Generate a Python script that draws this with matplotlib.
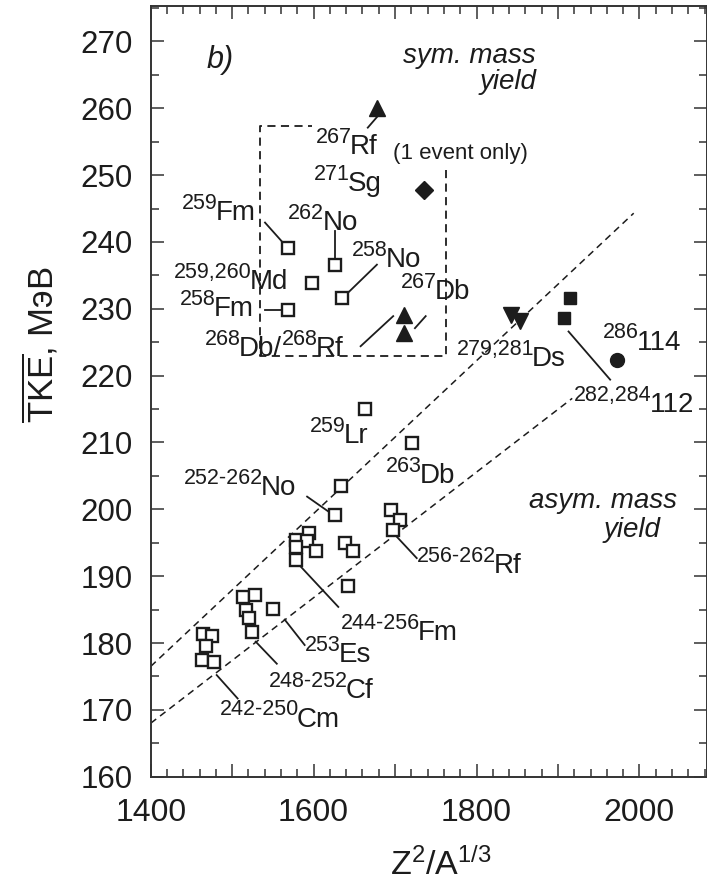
import matplotlib
matplotlib.use('Agg')
import matplotlib.pyplot as plt
from matplotlib.ticker import MultipleLocator
from matplotlib.transforms import offset_copy

plt.rcParams['font.family'] = ['Liberation Sans', 'DejaVu Sans']
plt.rcParams['mathtext.fontset'] = 'custom'
plt.rcParams['mathtext.rm'] = 'Liberation Sans'
plt.rcParams['mathtext.it'] = 'Liberation Sans:italic'
plt.rcParams['mathtext.default'] = 'regular'

INK = '#1c1c1c'

# ---------------- data ----------------
# open squares (Z^2/A^(1/3), TKE)
open_x = [1568, 1625.7, 1597.8, 1634.7, 1568,            # 259Fm, 262No, 259,260Md, 258No, 258Fm
          1663.1, 1720.8,                                  # 259Lr, 263Db
          1633.3, 1625.7,                                  # No
          1694.6, 1705.6, 1697.6,                          # Rf
          1577.8, 1594.7, 1592.0, 1577.8, 1603.5, 1577.8,  # Fm
          1639.1, 1648.9, 1642.2,
          1513.5, 1528.0, 1516.5, 1520.1, 1524.5,          # Cf
          1550.3,                                          # Es
          1464.6, 1475.7, 1467.6, 1463.2, 1478.0]          # Cm
open_y = [239.1, 236.6, 233.8, 231.6, 229.8,
          215.0, 209.9,
          203.5, 199.2,
          199.9, 198.4, 196.9,
          195.4, 196.5, 195.2, 194.4, 193.7, 192.4,
          194.9, 193.7, 188.5,
          186.9, 187.2, 185.0, 183.7, 181.6,
          185.1,
          181.4, 181.1, 179.5, 177.4, 177.2]

rf_db_x = [1677.7, 1711.0, 1711.0]   # filled up-triangles: 267Rf, 268Db/268Rf
rf_db_y = [260.0, 229.1, 226.4]
sg_x = [1735.4]                      # 271Sg diamond
sg_y = [247.7]
ds_x = [1842.0, 1853.0]              # 279,281Ds down-triangles
ds_y = [229.1, 228.1]
cn_x = [1914.3, 1907.2]              # 282,284 112 filled squares
cn_y = [231.6, 228.6]
fl_x = [1973.0]                      # 286 114 circle
fl_y = [222.4]

# dashed trend lines
upper_x = [1400, 1993]
upper_y = [176.5, 244.3]
lower_x = [1400, 1917.5]
lower_y = [168.0, 216.6]

# dashed box around the symmetric-yield group
box_x = [1762, 1762, 1534.3, 1534.3, 1598]
box_y = [250.8, 223.0, 223.0, 257.3, 257.3]

# labels: "^sup|base|..." , x, y (baseline-left)
labels = [
    ('^267|Rf', 1602.3, 253.2),
    ('^271|Sg', 1600.0, 247.6),
    ('^259|Fm', 1438.0, 243.3),
    ('^262|No', 1569.0, 241.8),
    ('^259,260|Md', 1429.0, 232.9),
    ('^258|No', 1646.7, 236.3),
    ('^258|Fm', 1435.8, 228.9),
    ('^267|Db', 1706.6, 231.4),
    ('^268|Db/|^268|Rf', 1466.8, 222.9),
    ('^279,281|Ds', 1775.4, 221.4),
    ('^286|114', 1955.3, 223.9),
    ('^282,284|112', 1919.7, 214.6),
    ('^259|Lr', 1595.6, 209.9),
    ('^263|Db', 1688.8, 203.9),
    ('^252-262|No', 1440.2, 202.2),
    ('^256-262|Rf', 1726.6, 190.4),
    ('^244-256|Fm', 1633.2, 180.5),
    ('^253|Es', 1589.0, 177.2),
    ('^248-252|Cf', 1544.5, 171.7),
    ('^242-250|Cm', 1484.6, 167.5),
]

# leader lines: (x0, y0, x1, y1)
leaders = [
    (1680.0, 259.0, 1666.5, 257.1),
    (1540.3, 242.9, 1562.3, 239.9),
    (1626.7, 241.6, 1626.7, 237.6),
    (1642.2, 232.4, 1677.7, 236.6),
    (1540.1, 229.8, 1562.3, 229.8),
    (1737.6, 228.9, 1724.4, 227.1),
    (1657.7, 224.4, 1697.7, 228.9),
    (1913.0, 226.6, 1964.1, 219.4),
    (1592.0, 201.9, 1617.8, 199.7),
    (1702.1, 195.9, 1726.6, 192.7),
    (1584.4, 191.4, 1630.3, 185.4),
    (1564.5, 183.5, 1589.0, 179.7),
    (1528.9, 180.2, 1554.8, 176.9),
    (1481.0, 175.2, 1506.7, 171.7),
]

# ---------------- figure ----------------
fig = plt.figure(figsize=(7.07, 8.81), dpi=100)
ax = fig.add_axes([0.2132, 0.1184, 0.7868, 0.8748])
ax.set_xlim(1400, 2083)
ax.set_ylim(160, 275.3)
renderer = fig.canvas.get_renderer()

dash = (0, (4.5, 3.2))
ax.plot(upper_x, upper_y, color=INK, lw=1.1, ls=dash)
ax.plot(lower_x, lower_y, color=INK, lw=1.1, ls=dash)
ax.plot(box_x, box_y, color=INK, lw=1.3, ls=(0, (4.5, 3.0)))

for x0, y0, x1, y1 in leaders:
    ax.plot([x0, x1], [y0, y1], color=INK, lw=1.3)

ax.plot(open_x, open_y, ls='none', marker='s', ms=8.2, mfc='white', mec=INK, mew=1.7)
ax.plot(rf_db_x, rf_db_y, ls='none', marker='^', ms=12, color=INK)
ax.plot(sg_x, sg_y, ls='none', marker='D', ms=9.5, color=INK)
ax.plot(ds_x, ds_y, ls='none', marker='v', ms=11, color=INK)
ax.plot(cn_x, cn_y, ls='none', marker='s', ms=8, color=INK)
ax.plot(fl_x, fl_y, ls='none', marker='o', ms=10, color=INK)

BASE_FS, SUP_FS, RISE = 20, 15.5, 8.0


def seg_label(spec, x, y):
    dx = 0.0
    for part in spec.split('|'):
        sup = part.startswith('^')
        txt = part[1:] if sup else part
        tr = offset_copy(ax.transData, fig=fig, x=dx, y=RISE if sup else 0.0, units='points')
        t = ax.text(x, y, txt, fontsize=SUP_FS if sup else BASE_FS, color=INK,
                    ha='left', va='baseline', transform=tr)
        dx += t.get_window_extent(renderer).width * 72.0 / fig.dpi - (1.5 if sup else 0.3)


for spec, x, y in labels:
    seg_label(spec, x, y)

ax.text(1696.9, 252.4, '(1 event only)', fontsize=16, color=INK, ha='left', va='baseline')
ax.text(1469, 266.0, 'b)', fontsize=22, style='italic', color=INK, ha='left', va='baseline')
ax.text(1873, 266.8, 'sym. mass', fontsize=20, style='italic', color=INK, ha='right', va='baseline')
ax.text(1873, 262.9, 'yield', fontsize=20, style='italic', color=INK, ha='right', va='baseline')
ax.text(2046, 200.2, 'asym. mass', fontsize=20, style='italic', color=INK, ha='right', va='baseline')
ax.text(2026, 195.9, 'yield', fontsize=20, style='italic', color=INK, ha='right', va='baseline')

# axes styling
for s in ax.spines.values():
    s.set_color('#333333')
    s.set_linewidth(1.4)
ax.xaxis.set_major_locator(MultipleLocator(100))
ax.xaxis.set_minor_locator(MultipleLocator(20))
ax.yaxis.set_major_locator(MultipleLocator(10))
ax.yaxis.set_minor_locator(MultipleLocator(5))
ax.tick_params(which='both', direction='in', top=True, right=True, color='#333333', width=1.1)
ax.tick_params(which='major', length=9.5)
ax.tick_params(which='minor', length=5.5)
ax.tick_params(axis='y', which='major', labelsize=22.5, pad=13, labelcolor=INK)
ax.tick_params(axis='x', which='major', labelsize=23, pad=15, labelcolor=INK)
ax.set_xticks([1400, 1500, 1600, 1700, 1800, 1900, 2000])
ax.set_xticklabels(['1400', '', '1600', '', '1800', '', '2000'])

fig.text(441 / 707, 6 / 881, r'Z$^2$/A$^{1/3}$', fontsize=24.5, color=INK, ha='center', va='baseline')
fig.text(40 / 707, 1 - 345 / 881, r'$\overline{TKE}$, МэВ', fontsize=25, color=INK,
         rotation=90, ha='center', va='center')

fig.savefig('out.png', dpi=100, facecolor='white')
